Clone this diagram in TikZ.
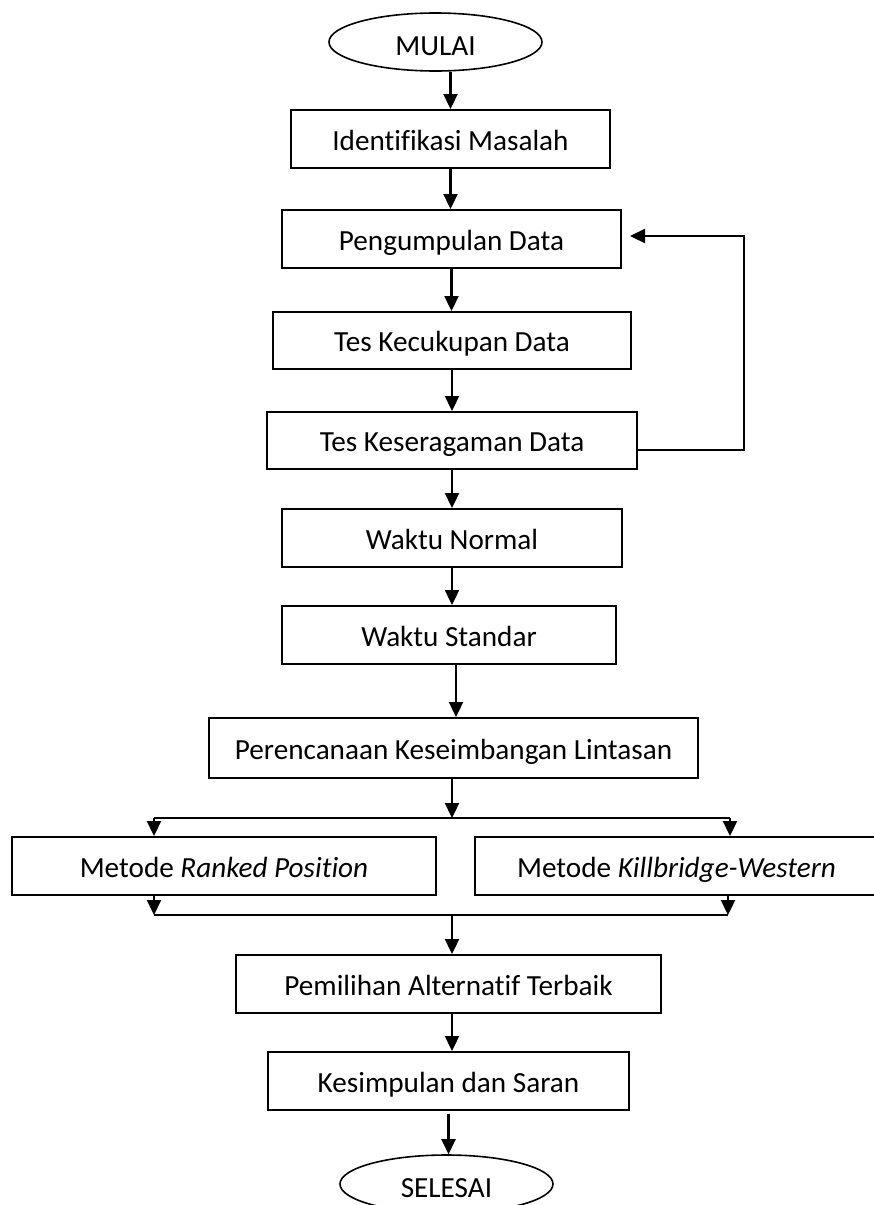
\documentclass[tikz,border=0pt]{standalone}
\usepackage{fontspec}
\setmainfont{Carlito}[Ligatures=NoCommon]
\usepackage{tikz}
\usetikzlibrary{arrows.meta,shapes.geometric,calc}
\newcommand{\fsz}{\fontsize{29.2}{35}\selectfont}

\begin{document}
\begin{tikzpicture}[
  x=1pt, y=-1pt, font=\fsz,
  ln/.style={line width=2.3pt, draw=black},
  arr/.style={ln, -{Triangle[length=15pt, width=14pt]}},
  box/.style={rectangle, draw=black, line width=2pt, fill=white, inner sep=2pt, minimum height=58pt,
              text height=28pt, text depth=6pt},
  term/.style={ellipse, draw=black, line width=1.6pt, fill=white, inner sep=0pt, minimum width=213pt, minimum height=58pt,
               text height=28pt, text depth=2pt},
]
\useasboundingbox (0,0) rectangle (873,1205);
% ---------------- main column ----------------
\node[term] (mulai) at (435.5,42) {MULAI};
\node[box, minimum width=319pt] (idm) at (450.5,139) {Identifikasi Masalah};
\node[box, minimum width=339pt] (pgd) at (451.5,239) {Pengumpulan Data};
\node[box, minimum width=358pt, minimum height=57pt] (tkd) at (452,340.5) {Tes Kecukupan Data};
\node[box, minimum width=370pt, minimum height=57pt] (tsd) at (452,440.5) {Tes Keseragaman Data};
\node[box, minimum width=340pt] (wn) at (452,538) {Waktu Normal};
\node[box, minimum width=334pt] (ws) at (449,635) {Waktu Standar};
\node[box, minimum width=489pt, minimum height=60pt] (pkl) at (453.5,748) {Perencanaan Keseimbangan Lintasan};
\draw[arr] (mulai.south -| idm.north) -- (idm.north);
\draw[arr] (idm.south) -- (idm.south |- pgd.north);
\draw[arr] (pgd.south) -- (pgd.south |- tkd.north);
\draw[arr] (tkd.south) -- (tkd.south |- tsd.north);
\draw[arr] (tsd.south) -- (tsd.south |- wn.north);
\draw[arr] (wn.south) -- (wn.south |- ws.north);
\draw[arr] (ws.south) ++(7,0) coordinate (wsx) -- (wsx |- pkl.north);
% feedback from the uniformity test back to data collection
\coordinate (fb) at (744,236);
\draw[arr] ([yshift=-9.5pt]tsd.east) -| (fb) -- ([xshift=8pt,yshift=3pt]pgd.east);

% ---------------- two methods ----------------
\node[box, minimum width=424pt] (rp) at (224,866) {Metode \textit{Ranked Position}};
\node[box, minimum width=403pt] (kw) at (676.5,866) {Metode \textit{Killbridge-Western}};
\coordinate (spl) at (452,818);
\coordinate (splL) at (154,818);
\coordinate (splR) at (730,818);
\coordinate (mrg) at (452,915);
\coordinate (mrgL) at (154,915);
\coordinate (mrgR) at (728,915);
\draw[arr] (spl |- pkl.south) -- (spl);
\draw[ln] (splL) -- (splR);
\draw[arr] (splL) -- (splL |- rp.north);
\draw[arr] (splR) -- (splR |- kw.north);
\draw[arr] (mrgL |- rp.south) -- (mrgL);
\draw[arr] (mrgR |- kw.south) -- (mrgR);
\draw[ln] (mrgL) -- (mrgR);

% ---------------- closing ----------------
\node[box, minimum width=425pt] (pat) at (448.5,984) {Pemilihan Alternatif Terbaik};
\node[box, minimum width=361pt] (ks) at (448.5,1081) {Kesimpulan dan Saran};
\node[term] (selesai) at (446.5,1184) {SELESAI};
\draw[arr] (mrg) -- (mrg |- pat.north);
\draw[arr] (pat.south) ++(3.5,0) coordinate (patx) -- (patx |- ks.north);
\draw[arr] ([yshift=-3pt]ks.south) -- (ks.south |- selesai.north);
\end{tikzpicture}
\end{document}
